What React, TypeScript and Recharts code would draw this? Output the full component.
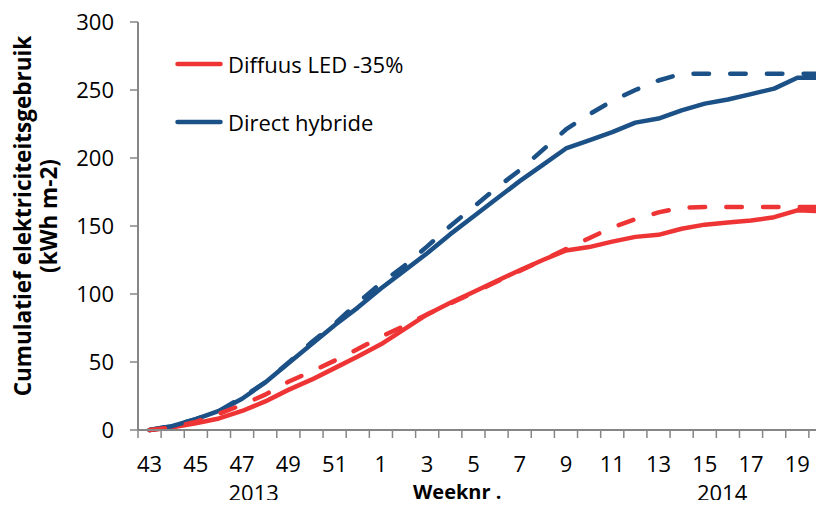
import { LineChart, Line, XAxis, YAxis, Legend } from 'recharts'

// week numbers, 2013 wk 43 .. 2014 wk 20
const weeks = [
  '43', '44', '45', '46', '47', '48', '49', '50', '51', '52',
  '1', '2', '3', '4', '5', '6', '7', '8', '9', '10',
  '11', '12', '13', '14', '15', '16', '17', '18', '19', '20',
]

// measured (solid)
const diffuus = [
  0, 2, 5, 8.5, 14, 21, 29.5, 37, 45.5, 54,
  63, 74, 85, 93.5, 101.5, 109.5, 117.5, 125, 132, 134.5,
  138.5, 142, 143.5, 148, 151, 152.5, 154, 156.5, 161.5, 161,
]
const hybride = [
  0, 3, 8, 14, 23, 35, 49, 63, 77, 90,
  104, 117, 130, 144, 157, 170, 183, 195, 207, 213,
  219, 226, 229, 235, 240, 243, 247, 251, 259, 259,
]

// expected (dashed)
const diffuusRef = [
  0, 2, 6, 12, 18.5, 26, 35.5, 43, 51, 59.5,
  68.5, 76.5, 85, 93, 101, 109, 117, 125, 133, 141,
  149, 155, 160, 163.5, 164, 164, 164, 164, 164, 164,
]
const hybrideRef = [
  0, 3, 8, 14, 24, 35, 49.5, 64.5, 78, 93.5,
  108, 120.5, 135, 150, 164, 178, 191, 206, 221, 232,
  242, 250, 257, 262, 262, 262, 262, 262, 262, 262,
]

const yTicks = [0, 50, 100, 150, 200, 250, 300]
const weekTicks = [0, 2, 4, 6, 8, 10, 12, 14, 16, 18, 20, 22, 24, 26, 28]
const groupTicks = [4.5, 13.3, 24.75]
const groupLabels = ['2013', 'Weeknr .', '2014']

const RED = '#ee3434'
const BLUE = '#1b5186'
const AXIS = '#868686'
const FONT = '"Open Sans", sans-serif'

const data = weeks.map((week, i) => ({
  idx: i,
  week,
  diffuus: diffuus[i],
  hybride: hybride[i],
  diffuusRef: diffuusRef[i],
  hybrideRef: hybrideRef[i],
}))

const markTicks = [...weeks.map((_, i) => i - 0.5), weeks.length - 0.5]
const xDomain = [-0.5, weeks.length - 0.5]

const legendItems = [
  { name: 'Diffuus LED -35%', color: RED },
  { name: 'Direct hybride', color: BLUE },
]

const GroupTick = (props: any) => {
  const i = groupTicks.indexOf(props.payload.value)
  const text = groupLabels[i] ?? ''
  const bold = text === 'Weeknr .'
  return (
    <text x={props.x} y={props.y} textAnchor="middle" dominantBaseline="hanging"
      fontSize={bold ? 20 : 22} fontWeight={bold ? 700 : 400} fill="#000">
      {text}
    </text>
  )
}

const YTitle = (props: any) => {
  const vb = props.viewBox
  const cy = vb.y + vb.height / 2 - 10
  return (
    <g fontSize={22.5} fontWeight={700} fill="#000" textAnchor="middle" dominantBaseline="central">
      <text x={22} y={cy} transform={`rotate(-90 22 ${cy})`}>Cumulatief elektriciteitsgebruik</text>
      <text x={48} y={cy} transform={`rotate(-90 48 ${cy})`}>(kWh m-2)</text>
    </g>
  )
}

const LegendBox = () => (
  <div>
    {legendItems.map((it) => (
      <div key={it.name} style={{ display: 'flex', alignItems: 'center', height: 58 }}>
        <svg width={56} height={10}>
          <line x1={5.5} x2={48.5} y1={5} y2={5} stroke={it.color} strokeWidth={4.5} strokeLinecap="round" />
        </svg>
        <span style={{ fontSize: 22, color: '#000', whiteSpace: 'nowrap' }}>{it.name}</span>
      </div>
    ))}
  </div>
)

export default function App() {
  return (
    <div style={{ margin: -8, width: 824, height: 508, overflow: 'hidden', background: '#fff', fontFamily: FONT }}>
      <LineChart width={840} height={508} data={data} margin={{ top: 22, right: 8, left: 0, bottom: 0 }}>
        <XAxis
          xAxisId="marks" type="number" dataKey="idx" domain={xDomain} ticks={markTicks}
          interval={0} tickFormatter={() => ''} tickSize={8} height={8}
          axisLine={{ stroke: AXIS, strokeWidth: 2 }} tickLine={{ stroke: AXIS, strokeWidth: 1.5 }}
        />
        <XAxis
          xAxisId="week" type="number" dataKey="idx" domain={xDomain} ticks={weekTicks}
          interval={0} tickFormatter={(v: number) => weeks[v] ?? ''} axisLine={false} tickLine={false}
          tickSize={0} tickMargin={18} height={32} tick={{ fill: '#000', fontSize: 22 }}
        />
        <XAxis
          xAxisId="year" type="number" dataKey="idx" domain={xDomain} ticks={groupTicks}
          interval={0} axisLine={false} tickLine={false} tickSize={0} tickMargin={12} height={38}
          tick={<GroupTick />}
        />
        <YAxis
          type="number" domain={[0, 300]} ticks={yTicks} interval={0} width={138}
          tickSize={8} tickMargin={16} tick={{ fill: '#000', fontSize: 22 }}
          axisLine={{ stroke: AXIS, strokeWidth: 2 }} tickLine={{ stroke: AXIS, strokeWidth: 1.5 }}
          label={{ content: YTitle }}
        />
        <Legend
          layout="vertical" align="center" verticalAlign="middle" content={<LegendBox />}
          wrapperStyle={{ left: 172, top: 35, width: 'auto', height: 'auto' }}
        />
        <Line xAxisId="marks" type="linear" dataKey="diffuus" name="Diffuus LED -35%" stroke={RED}
          strokeWidth={4.5} strokeLinejoin="round" strokeLinecap="round" dot={false} activeDot={false} isAnimationActive={false} />
        <Line xAxisId="marks" type="linear" dataKey="hybride" name="Direct hybride" stroke={BLUE}
          strokeWidth={4.5} strokeLinejoin="round" strokeLinecap="round" dot={false} activeDot={false} isAnimationActive={false} />
        <Line xAxisId="marks" type="linear" dataKey="hybrideRef" stroke={BLUE} strokeDasharray="15.5 21.2"
          strokeWidth={4.5} strokeLinejoin="round" strokeLinecap="round" dot={false} activeDot={false} isAnimationActive={false} />
        <Line xAxisId="marks" type="linear" dataKey="diffuusRef" stroke={RED} strokeDasharray="15.5 21.2"
          strokeWidth={4.5} strokeLinejoin="round" strokeLinecap="round" dot={false} activeDot={false} isAnimationActive={false} />
      </LineChart>
    </div>
  )
}
